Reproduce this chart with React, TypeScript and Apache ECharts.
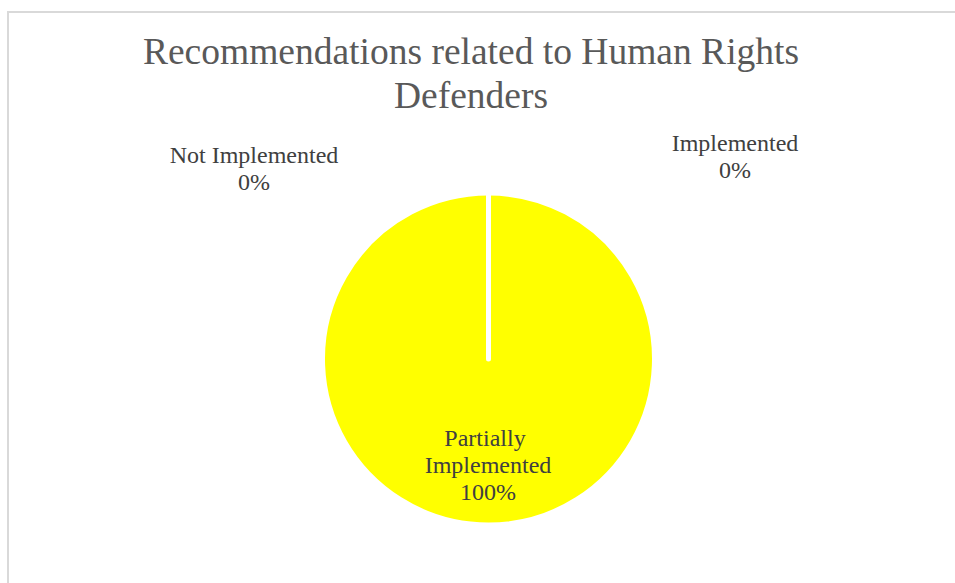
import React, { useEffect, useRef } from "react";
import * as echarts from "echarts";

const titleLines = ["Recommendations related to Human Rights", "Defenders"];
const categories = ["Implemented", "Partially Implemented", "Not Implemented"];
const values = [0, 100, 0];
const sliceColors = ["#4472C4", "#FFFF00", "#A5A5A5"];

export default function App() {
  const ref = useRef<HTMLDivElement>(null);
  useEffect(() => {
    if (!ref.current) return;
    const chart = echarts.init(ref.current, undefined, { renderer: "svg" });
    const labelPos: Record<string, [number, number]> = {
      "Implemented": [735, 156],
      "Partially Implemented": [488, 465],
      "Not Implemented": [254, 168],
    };
    chart.setOption({
      animation: false,
      backgroundColor: "#ffffff",
      title: {
        text: titleLines.join("\n"),
        left: 471,
        textAlign: "center",
        top: 29,
        padding: 0,
        textStyle: {
          fontFamily: "Liberation Serif",
          fontSize: 37.5,
          fontWeight: "normal",
          color: "#595959",
          lineHeight: 44,
        },
      },
      graphic: [
        {
          type: "rect",
          shape: { x: 8, y: 12, width: 1000, height: 640 },
          style: { fill: "none", stroke: "#d9d9d9", lineWidth: 2 },
          silent: true,
          z: -1,
        },
      ],
      series: [
        {
          type: "pie",
          center: [488.5, 359],
          radius: 166,
          startAngle: 90,
          clockwise: true,
          avoidLabelOverlap: false,
          minShowLabelAngle: 0,
          itemStyle: { borderColor: "#ffffff", borderWidth: 5 },
          label: {
            show: true,
            position: "outside",
            formatter: "{b}\n{d}%",
            fontFamily: "Liberation Serif",
            fontSize: 24,
            lineHeight: 27,
            color: "#404040",
            align: "center",
          },
          labelLine: { show: false },
          emphasis: { disabled: true },
          labelLayout: (params: any) => {
            const name = categories[params.dataIndex];
            const p = labelPos[name];
            return { x: p[0], y: p[1], align: "center", verticalAlign: "middle" };
          },
          data: categories.map((c, i) => ({
            name: c,
            value: values[i],
            itemStyle: { color: sliceColors[i] },
            label: c === "Partially Implemented" ? { width: 150, overflow: "break" } : undefined,
          })),
        },
      ],
    });
    return () => chart.dispose();
  }, []);
  return (
    <div
      ref={ref}
      style={{ position: "fixed", left: 0, top: 0, width: 955, height: 583 }}
    />
  );
}
